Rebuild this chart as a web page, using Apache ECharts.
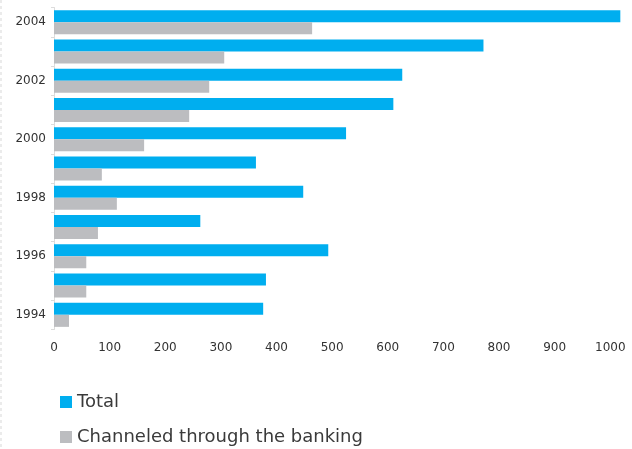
<!DOCTYPE html>
<html>
<head>
<meta charset="utf-8">
<style>
  html, body { margin: 0; padding: 0; background: #fff; }
  #chart { width: 632px; height: 449px; }
</style>
<script src="https://cdn.jsdelivr.net/npm/echarts@6/dist/echarts.min.js"></script>
</head>
<body>
<div id="chart"></div>
<script>
// Years, bottom to top
const years = ['1994', '1995', '1996', '1997', '1998', '1999', '2000', '2001', '2002', '2003', '2004'];
// Total amounts per year
const totalValues = [376, 381, 493, 263, 448, 363, 525, 610, 626, 772, 1018];
// Portion channeled through the banking system
const bankingValues = [27, 58, 58, 79, 113, 86, 162, 243, 279, 306, 464];
// Value-axis ticks
const xTicks = [0, 100, 200, 300, 400, 500, 600, 700, 800, 900, 1000];

const seriesNames = ['Total', 'Channeled through the banking'];
const fontFamily = '"DejaVu Sans", sans-serif';

const chart = echarts.init(document.getElementById('chart'), null, { renderer: 'canvas' });

chart.setOption({
  animation: false,
  backgroundColor: '#ffffff',
  grid: { left: 54, right: 5, top: 7.5, bottom: 119.5, containLabel: false },
  legend: {
    orient: 'vertical',
    left: 60,
    top: 393,
    padding: 0,
    itemWidth: 12,
    itemHeight: 12,
    itemGap: 17,
    icon: 'rect',
    data: seriesNames,
    textStyle: { fontFamily, fontSize: 18, color: '#3a3a3a', lineHeight: 18 }
  },
  xAxis: {
    type: 'value',
    min: 0,
    max: 1030,
    interval: 100,
    axisLine: { show: false },
    axisTick: { show: false },
    splitLine: { show: false },
    axisLabel: {
      margin: 12,
      color: '#333',
      fontFamily,
      fontSize: 12,
      showMaxLabel: false,
      formatter: v => (xTicks.indexOf(v) >= 0 ? String(v) : '')
    }
  },
  yAxis: {
    type: 'category',
    data: years,
    axisLine: { show: true, lineStyle: { color: '#dcdcdc', width: 1 } },
    axisTick: { show: true, interval: 0, length: 3, lineStyle: { color: '#dcdcdc' } },
    axisLabel: {
      interval: 1,
      margin: 8,
      color: '#333',
      fontFamily,
      fontSize: 12
    }
  },
  series: [
    {
      name: seriesNames[0],
      type: 'bar',
      data: totalValues,
      barWidth: 12,
      barGap: '0%',
      itemStyle: { color: '#00aeef' }
    },
    {
      name: seriesNames[1],
      type: 'bar',
      data: bankingValues,
      barWidth: 12,
      itemStyle: { color: '#bcbdc0' }
    }
  ],
  graphic: [
    {
      type: 'line',
      shape: { x1: 1, y1: 0, x2: 1, y2: 449 },
      style: { stroke: '#d8d8d8', lineWidth: 1, lineDash: [3, 3] },
      silent: true
    }
  ]
});
</script>
</body>
</html>
